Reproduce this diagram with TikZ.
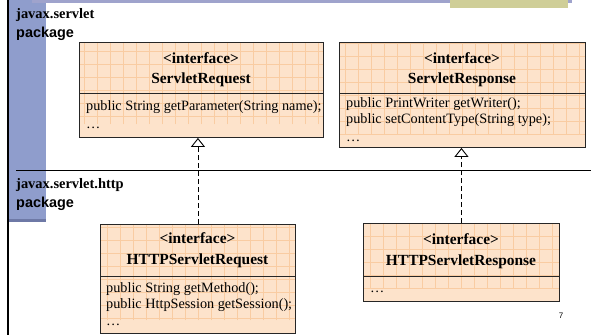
\documentclass[tikz,border=0pt]{standalone}
\usepackage{fontspec}
\setmainfont{Liberation Serif}
\setsansfont{Liberation Sans}
\usetikzlibrary{arrows.meta}
\definecolor{boxfill}{HTML}{FDE3CB}
\definecolor{gridcol}{HTML}{F9CCA2}
\definecolor{bandblue}{HTML}{8F9DCC}
\definecolor{banddark}{HTML}{6E79A6}
\definecolor{topblue}{HTML}{9FA3CC}
\definecolor{khaki}{HTML}{CFCE98}
\tikzset{
  umlbox/.style={draw=black!85, line width=0.9bp, fill=boxfill, anchor=north west, inner sep=0pt,
    path picture={\draw[gridcol, line width=0.4bp, step=13bp]
      ([shift={(-13bp,13bp)}]path picture bounding box.south west) grid
      (path picture bounding box.north east);}},
  sepline/.style={draw=black!85, line width=0.9bp},
  hdr/.style={font=\fontsize{15.5}{18}\selectfont\bfseries, anchor=base, inner sep=0pt},
  meth/.style={font=\fontsize{14.3}{16}\selectfont, anchor=base west, inner sep=0pt},
  pkg/.style={font=\fontsize{14.5}{16}\selectfont\bfseries, anchor=base west, inner sep=0pt},
  pkgword/.style={font=\fontsize{14.5}{16}\selectfont\sffamily\bfseries, anchor=base west, inner sep=0pt},
  realize/.style={dashed, dash pattern=on 5bp off 3bp, line width=0.9bp,
    -{Triangle[open, length=9bp, width=14bp, line width=0.9bp]}}
}
\begin{document}
\begin{tikzpicture}[x=1bp,y=-1bp]
\useasboundingbox (0,0) rectangle (591,335);
% decorations
\fill[bandblue] (9,0) rectangle (46,221);
\fill[banddark] (9,219) rectangle (46,221.5);
\fill[topblue] (32,0) rectangle (572,2.5);
\fill[khaki] (450,0) rectangle (568,7.5);
\draw[black, line width=2bp] (8.2,0) -- (8.2,335);
% package separator
\draw[black, line width=0.9bp] (16,170) -- (591,170);
% package labels
\node[pkg] (p1) at (16,18) {javax.servlet};
\node[pkgword] (p1b) at (16,37) {package};
\node[pkg] (p2) at (16,188) {javax.servlet.http};
\node[pkgword] (p2b) at (16,207) {package};
% boxes
\node[umlbox, minimum width=244bp, minimum height=95bp] (req) at (79,42) {};
\node[umlbox, minimum width=246bp, minimum height=105bp] (resp) at (339,42) {};
\node[umlbox, minimum width=195bp, minimum height=109bp] (hreq) at (100,224) {};
\node[umlbox, minimum width=196bp, minimum height=78bp] (hresp) at (363,223) {};
% separators
\draw[sepline] (79,93) -- (323,93);
\draw[sepline] (339,93) -- (585,93);
\draw[sepline] (100,276) -- (295,276);
\draw[sepline] (363,276) -- (559,276);
% headers
\node[hdr] (reqi) at (201,63) {<interface>};
\node[hdr] (reqn) at (201,83) {ServletRequest};
\node[hdr] (respi) at (462,63) {<interface>};
\node[hdr] (respn) at (462,83) {ServletResponse};
\node[hdr] (hreqi) at (197.5,243) {<interface>};
\node[hdr] (hreqn) at (197.5,264) {HTTPServletRequest};
\node[hdr] (hrespi) at (461,244) {<interface>};
\node[hdr] (hrespn) at (461,265) {HTTPServletResponse};
% methods
\node[meth] (m1) at (86,110) {public String getParameter(String name);};
\node[meth] (m2) at (86,128) {\dots};
\node[meth] (m3) at (346,107) {public PrintWriter getWriter();};
\node[meth] (m4) at (346,123) {public setContentType(String type);};
\node[meth] (m5) at (346,141) {\dots};
\node[meth] (m6) at (106,292) {public String getMethod();};
\node[meth] (m7) at (106,308) {public HttpSession getSession();};
\node[meth] (m8) at (106,325) {\dots};
\node[meth] (m9) at (370,292) {\dots};
% page number
\node[font=\fontsize{8}{9}\selectfont\sffamily, anchor=base, inner sep=0pt] (pg) at (561,318) {7};
% realizations
\draw[realize] (hreq.north) -- (hreq.north |- req.south);
\draw[realize] (hresp.north) -- (hresp.north |- resp.south);
\end{tikzpicture}
\end{document}
